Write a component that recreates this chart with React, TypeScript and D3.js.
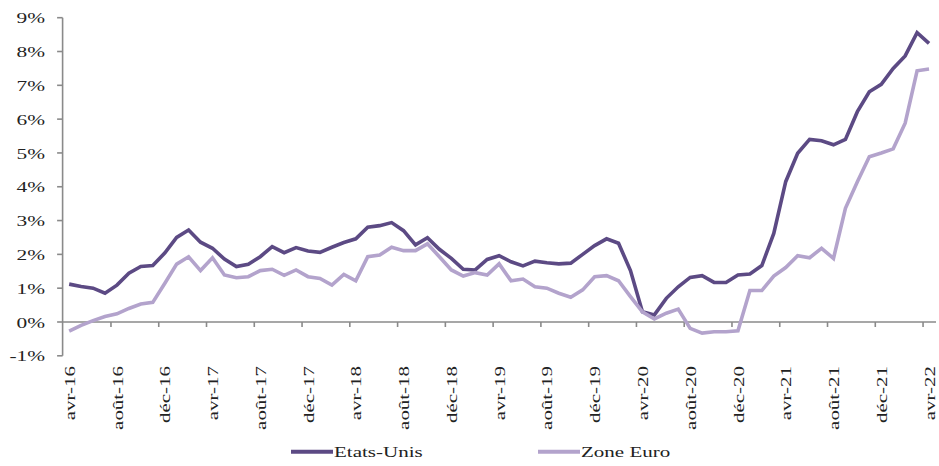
import React from 'react';
import * as d3 from 'd3';

const width = 939;
const height = 466;

// monthly, avr-16 .. avr-22
const monthNames = ['avr', 'mai', 'juin', 'juil', 'août', 'sept', 'oct', 'nov', 'déc', 'janv', 'févr', 'mars'];
const months: string[] = d3.range(73).map((i) => {
  const yr = 16 + Math.floor((i + 3) / 12);
  return `${monthNames[i % 12]}-${yr}`;
});

const etatsUnis = [
  1.12, 1.05, 1.0, 0.85, 1.09, 1.44, 1.64, 1.67, 2.04, 2.5, 2.72, 2.36,
  2.18, 1.86, 1.64, 1.71, 1.93, 2.23, 2.05, 2.2, 2.1, 2.06, 2.21, 2.35,
  2.46, 2.8, 2.85, 2.94, 2.7, 2.28, 2.49, 2.15, 1.88, 1.56, 1.54, 1.85,
  1.96, 1.78, 1.66, 1.8, 1.75, 1.72, 1.74, 2.0, 2.26, 2.46, 2.33, 1.52,
  0.3, 0.21, 0.7, 1.04, 1.32, 1.37, 1.17, 1.17, 1.39, 1.42, 1.67, 2.62,
  4.15, 4.99, 5.4, 5.36, 5.24, 5.4, 6.22, 6.81, 7.03, 7.5, 7.87, 8.56,
  8.24,
];

const zoneEuro = [
  -0.27, -0.1, 0.04, 0.16, 0.24, 0.4, 0.53, 0.58, 1.14, 1.71, 1.93, 1.52,
  1.9, 1.39, 1.31, 1.34, 1.52, 1.56, 1.38, 1.54, 1.34, 1.29, 1.09, 1.41,
  1.22, 1.93, 1.98, 2.21, 2.11, 2.11, 2.31, 1.93, 1.54, 1.36, 1.46, 1.39,
  1.72, 1.22, 1.27, 1.04, 1.0, 0.85, 0.73, 0.95, 1.34, 1.37, 1.22, 0.75,
  0.3, 0.09, 0.26, 0.38, -0.19, -0.33, -0.29, -0.29, -0.26, 0.93, 0.93, 1.36,
  1.61, 1.96, 1.9, 2.18, 1.88, 3.36, 4.15, 4.89, 5.0, 5.12, 5.88, 7.43,
  7.48,
];

const yTicks = [-1, 0, 1, 2, 3, 4, 5, 6, 7, 8, 9];

const series = [
  { name: 'Etats-Unis', values: etatsUnis, color: '#5c4a84' },
  { name: 'Zone Euro', values: zoneEuro, color: '#b3a3cc' },
];

const font = '"Liberation Serif", "Times New Roman", serif';
const axisColor = '#8a8a8a';

export default function App() {
  const x = d3.scaleBand<string>().domain(months).range([63.2, 935]).padding(0);
  const bw = x.bandwidth();
  const cx = (m: string) => (x(m) as number) + bw / 2;
  const y = d3.scaleLinear().domain([-1, 9]).range([355.8, 17.7]);

  const line = d3
    .line<number>()
    .x((_, i) => cx(months[i]))
    .y((v) => y(v))
    .curve(d3.curveLinear);

  const tickIdx = d3.range(4, months.length, 4);
  const labelIdx = d3.range(0, months.length, 4);
  const axisX = 62.6;

  return (
    <svg width={width} height={height} style={{ position: 'absolute', left: 0, top: 0, background: '#fff' }}>
      {/* y axis */}
      <line x1={axisX} x2={axisX} y1={y(9)} y2={y(-1)} stroke={axisColor} strokeWidth={1.6} />
      {yTicks.map((t) => (
        <g key={t}>
          <line x1={axisX - 5.5} x2={axisX} y1={y(t)} y2={y(t)} stroke={axisColor} strokeWidth={1.6} />
          <text
            transform={`translate(45,${y(t)}) scale(1.38,1)`}
            dy="0.36em"
            textAnchor="end"
            fontFamily={font}
            fontSize={15.5}
            fill="#222"
          >
            {t}%
          </text>
        </g>
      ))}

      {/* x axis at 0 */}
      <line x1={axisX} x2={936} y1={y(0)} y2={y(0)} stroke={axisColor} strokeWidth={1.6} />
      {tickIdx.map((i) => (
        <line
          key={i}
          x1={x(months[i]) as number}
          x2={x(months[i]) as number}
          y1={y(0)}
          y2={y(0) + 5}
          stroke={axisColor}
          strokeWidth={1.6}
        />
      ))}
      {labelIdx.map((i) => (
        <text
          key={i}
          transform={`translate(${cx(months[i])},366) rotate(-90) scale(1.35,1)`}
          dy="0.36em"
          textAnchor="end"
          fontFamily={font}
          fontSize={15.5}
          fill="#222"
        >
          {months[i]}
        </text>
      ))}

      {/* lines */}
      {series.map((s) => (
        <path
          key={s.name}
          d={line(s.values) || ''}
          fill="none"
          stroke={s.color}
          strokeWidth={3.6}
          strokeLinejoin="miter"
        />
      ))}

      {/* legend */}
      {series.map((s, k) => {
        const lx = k === 0 ? 291 : 538;
        return (
          <g key={s.name}>
            <line x1={lx} x2={lx + 42} y1={451.7} y2={451.7} stroke={s.color} strokeWidth={4} />
            <text
              transform={`translate(${lx + 43},456.5) scale(1.45,1)`}
              fontFamily={font}
              fontSize={14.5}
              fill="#222"
            >
              {s.name}
            </text>
          </g>
        );
      })}
    </svg>
  );
}
